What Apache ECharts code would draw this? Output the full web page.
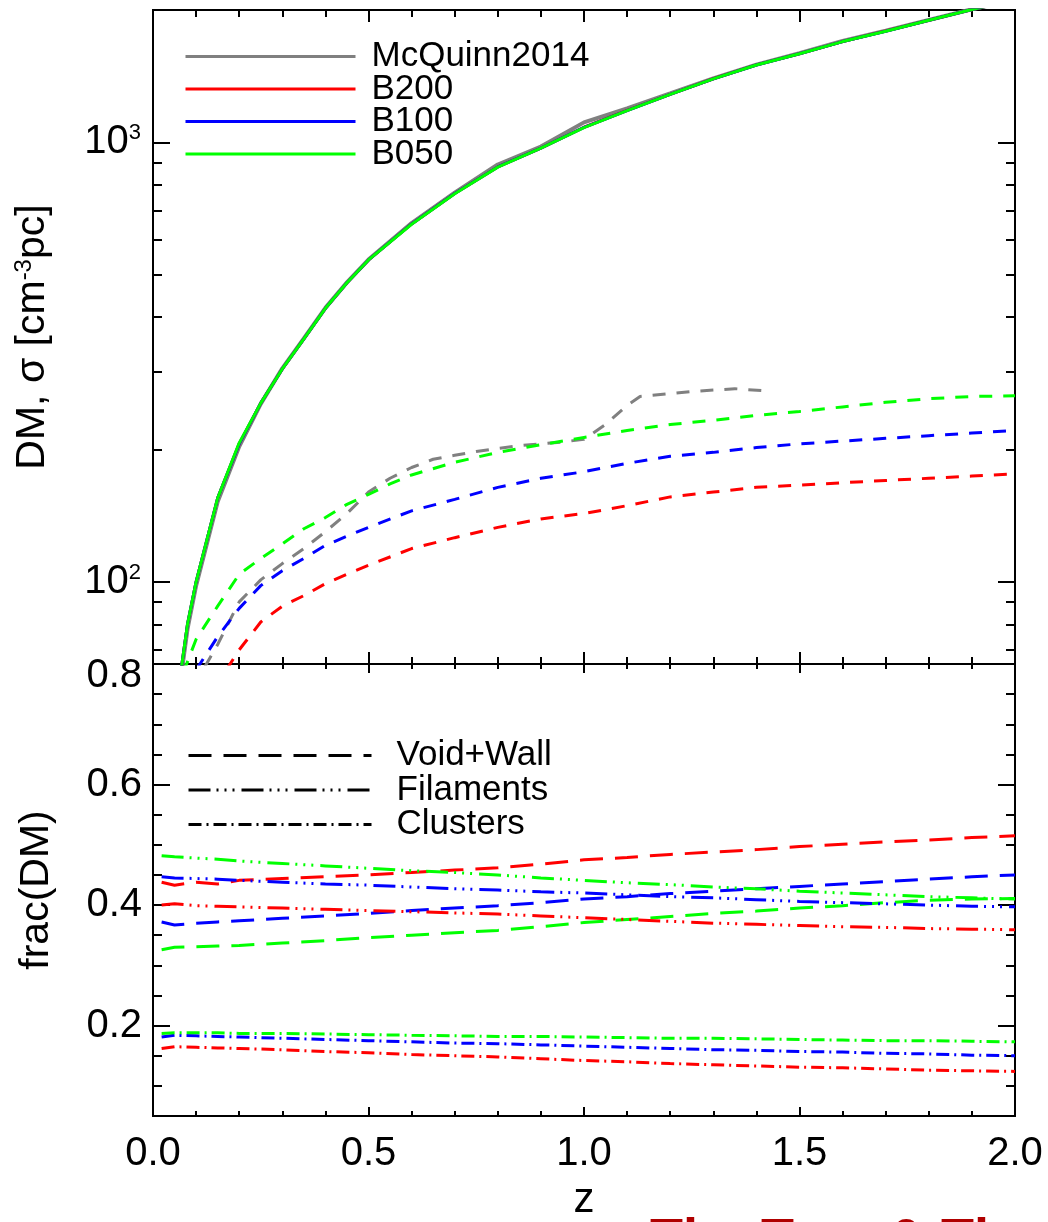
<!DOCTYPE html>
<html><head><meta charset="utf-8">
<script src="https://cdn.jsdelivr.net/npm/echarts@6/dist/echarts.min.js"></script>
<style>html,body{margin:0;padding:0;background:#fff}#c{width:1048px;height:1222px}</style>
</head><body><div id="c"></div>
<script>
// ---------- top panel: mean DM (solid) ----------
const zDM      = [0.04,0.06,0.08,0.1,0.15,0.2,0.25,0.3,0.35,0.4,0.45,0.5,0.6,0.7,0.8,0.9,1.0,1.1,1.2,1.3,1.4,1.5,1.6,1.7,1.8,1.9,2.0];
const dmMcQ    = [38,56,78,98,152,203,254,306,358,420,480,541,655,768,890,978,1110,1195,1292,1398,1502,1595,1700,1795,1898,2008,2110];
const dmB200   = [40,58,80,100,155,206,255,305,357,419,479,540,652,765,879,970,1082,1182,1286,1395,1500,1590,1695,1791,1895,2005,2110];
const dmB100   = [40,58,80,100,155,206,255,305,357,419,479,540,652,765,879,970,1081,1181,1285,1394,1499,1590,1695,1790,1895,2005,2110];
const dmB050   = [40,58,80,100,155,207,255,305,357,419,479,540,651,764,878,970,1080,1180,1285,1394,1499,1590,1695,1790,1895,2005,2110];

// ---------- top panel: sigma (dashed) ----------
const zSigMcQ  = [0.12,0.15,0.2,0.25,0.3,0.35,0.4,0.45,0.5,0.55,0.6,0.65,0.7,0.75,0.8,0.85,0.9,0.95,1.0,1.05,1.1,1.13,1.2,1.25,1.3,1.35,1.42];
const sigMcQ   = [64,72,90,101,110,119,130,143,160,172,182,190,194,198,201,204,206,208,211,228,252,264,268,271,273,275,272];
const zSigB050 = [0.07,0.1,0.15,0.2,0.25,0.3,0.35,0.4,0.45,0.5,0.55,0.6,0.7,0.8,0.9,1.0,1.1,1.2,1.3,1.4,1.5,1.6,1.7,1.8,1.9,2.0];
const sigB050  = [62,74,88,104,113,122,132,140,150,158,167,175,187,197,205,213,221,228,233,239,244,250,256,261,264,265];
const zSigB100 = [0.1,0.15,0.2,0.25,0.3,0.35,0.4,0.45,0.5,0.6,0.7,0.8,0.9,1.0,1.1,1.2,1.3,1.4,1.5,1.6,1.7,1.8,1.9,2.0];
const sigB100  = [63,75,87,98,106,113,121,127,133,145,154,164,172,178,186,193,197,202,206,209,212,215,218,221];
const zSigB200 = [0.17,0.2,0.25,0.3,0.35,0.4,0.45,0.5,0.6,0.7,0.8,0.9,1.0,1.1,1.2,1.3,1.4,1.5,1.6,1.7,1.8,1.9,2.0];
const sigB200  = [63,70,81,88,93,99,104,109,119,126,133,139,143,149,156,160,164,166,168,170,172,174,176];

// ---------- bottom panel: frac(DM) ----------
const zFrac    = [0.02,0.05,0.1,0.15,0.2,0.3,0.4,0.5,0.6,0.7,0.8,0.9,1.0,1.1,1.2,1.3,1.4,1.5,1.6,1.7,1.8,1.9,2.0];
const vwB200   = [0.438,0.433,0.438,0.435,0.441,0.444,0.447,0.450,0.454,0.458,0.462,0.468,0.475,0.479,0.484,0.488,0.492,0.497,0.501,0.505,0.508,0.512,0.515];
const vwB100   = [0.372,0.367,0.370,0.372,0.374,0.378,0.382,0.386,0.391,0.395,0.399,0.404,0.410,0.414,0.419,0.423,0.427,0.431,0.435,0.439,0.443,0.447,0.450];
const vwB050   = [0.326,0.330,0.331,0.332,0.333,0.337,0.341,0.346,0.350,0.354,0.358,0.364,0.371,0.376,0.381,0.386,0.390,0.395,0.399,0.404,0.408,0.410,0.411];
const filB050  = [0.482,0.480,0.478,0.476,0.473,0.469,0.465,0.461,0.457,0.454,0.450,0.445,0.441,0.437,0.434,0.430,0.427,0.423,0.420,0.417,0.414,0.412,0.410];
const filB100  = [0.447,0.445,0.444,0.443,0.441,0.438,0.435,0.433,0.430,0.427,0.425,0.422,0.420,0.417,0.414,0.412,0.409,0.406,0.404,0.402,0.400,0.398,0.397];
const filB200  = [0.400,0.402,0.399,0.398,0.397,0.395,0.393,0.391,0.389,0.387,0.385,0.382,0.379,0.376,0.373,0.370,0.368,0.366,0.364,0.363,0.361,0.360,0.359];
const cluB050  = [0.187,0.188,0.188,0.188,0.187,0.187,0.186,0.185,0.184,0.183,0.182,0.182,0.181,0.180,0.179,0.179,0.178,0.177,0.176,0.175,0.175,0.174,0.173];
const cluB100  = [0.181,0.184,0.183,0.182,0.181,0.179,0.177,0.175,0.173,0.171,0.170,0.168,0.166,0.164,0.162,0.160,0.159,0.157,0.156,0.154,0.153,0.151,0.150];
const cluB200  = [0.162,0.165,0.164,0.163,0.162,0.160,0.157,0.155,0.152,0.150,0.148,0.145,0.142,0.140,0.137,0.135,0.133,0.131,0.130,0.128,0.126,0.125,0.124];

// ---------- ticks / labels ----------
const zMajor    = [0, 0.5, 1.0, 1.5, 2.0];
const zMinor    = [0.1,0.2,0.3,0.4,0.6,0.7,0.8,0.9,1.1,1.2,1.3,1.4,1.6,1.7,1.8,1.9];
const dmMajor   = [100, 1000];
const dmMinor   = [70,80,90,200,300,400,500,600,700,800,900];
const fracMajor = [0.2, 0.4, 0.6, 0.8];
const fracMinor = [0.1,0.15,0.25,0.3,0.35,0.45,0.5,0.55,0.65,0.7,0.75];

const topNames = ['McQuinn2014','B200','B100','B050'];
const botNames = ['Void+Wall','Filaments','Clusters'];

const FONT = '"Liberation Sans", Arial, sans-serif';
const C = {McQ:'#808080', B200:'#ff0000', B100:'#0000ff', B050:'#00ff00'};
const DASH_SIG = [13, 11];
const DASH_VW  = [23, 12];
const DASH_FIL = [22, 6, 2, 6, 2, 6, 2, 7];
const DASH_CLU = [13, 5, 2, 5];

const pairs = (xs, ys) => xs.map((x, i) => [x, ys[i]]);
const AX = {color:'#000', width:2};

function xAx(grid, pos, len, ticks, extra) {
  return Object.assign({
    type:'value', gridIndex:grid, position:pos, min:0, max:2,
    axisLine:{show:true, onZero:false, lineStyle:AX},
    axisTick:{show:true, inside:true, length:len, customValues:ticks, lineStyle:AX},
    axisLabel:{show:false}, splitLine:{show:false}
  }, extra || {});
}
function yAx(grid, type, min, max, pos, len, ticks, extra) {
  const o = {
    type:type, gridIndex:grid, position:pos, min:min, max:max,
    axisLine:{show:true, onZero:false, lineStyle:AX},
    axisTick:{show:true, inside:true, length:len, customValues:ticks, lineStyle:AX},
    axisLabel:{show:false}, splitLine:{show:false}
  };
  if (type === 'log') o.logBase = 10;
  return Object.assign(o, extra || {});
}

const supRich = {
  b:{fontSize:40, fontFamily:FONT, color:'#000'},
  s:{fontSize:22, fontFamily:FONT, color:'#000', verticalAlign:'top'}
};

const xAxis = [
  xAx(0,'bottom',12,zMajor), xAx(0,'bottom',7,zMinor),
  xAx(0,'top',12,zMajor),    xAx(0,'top',7,zMinor),
  xAx(1,'bottom',9,zMajor,{
    axisLabel:{show:true, customValues:zMajor, margin:18, fontSize:40, fontFamily:FONT, color:'#000',
      formatter:v => Number(v).toFixed(1)},
    name:'z', nameLocation:'middle', nameGap:63,
    nameTextStyle:{fontSize:42, fontFamily:FONT, color:'#000'}
  }),
  xAx(1,'bottom',5,zMinor),
  xAx(1,'top',9,zMajor), xAx(1,'top',5,zMinor)
];

const yAxis = [
  yAx(0,'log',65,2000,'left',17,dmMajor,{
    axisLabel:{show:true, customValues:dmMajor, margin:12,
      formatter:v => '{b|10}{s|' + Math.round(Math.log10(v)) + '}', rich:supRich},
    name:'{n|DM, σ [cm}{s|-3}{n|pc]}', nameLocation:'middle', nameGap:100,
    nameTextStyle:{rich:{n:{fontSize:41, fontFamily:FONT, color:'#000'},
                         s:{fontSize:24, fontFamily:FONT, color:'#000', verticalAlign:'top'}}}
  }),
  yAx(0,'log',65,2000,'left',9,dmMinor),
  yAx(0,'log',65,2000,'right',17,dmMajor),
  yAx(0,'log',65,2000,'right',9,dmMinor),
  yAx(1,'value',0.05,0.8,'left',17,fracMajor,{
    axisLabel:{show:true, customValues:fracMajor, margin:11,
      formatter:v => (Math.abs(v-0.8) < 1e-9 ? '{t|' : '{r|') + Number(v).toFixed(1) + '}',
      rich:{r:{fontSize:40, fontFamily:FONT, color:'#000'},
            t:{fontSize:40, fontFamily:FONT, color:'#000', padding:[24,0,0,0]}}},
    name:'frac(DM)', nameLocation:'middle', nameGap:96,
    nameTextStyle:{fontSize:41, fontFamily:FONT, color:'#000'}
  }),
  yAx(1,'value',0.05,0.8,'left',9,fracMinor),
  yAx(1,'value',0.05,0.8,'right',17,fracMajor),
  yAx(1,'value',0.05,0.8,'right',9,fracMinor)
];

function line(name, color, data, width, dash, grid) {
  return {
    type:'line', name:name, xAxisIndex:grid===1?4:0, yAxisIndex:grid===1?4:0,
    data:data, symbol:'none', showSymbol:false, smooth:false, clip:true,
    lineStyle:{color:color, width:width, type:dash || 'solid'},
    itemStyle:{color:color}, emphasis:{disabled:true}, silent:true
  };
}

const series = [
  line('McQuinn2014', C.McQ,  pairs(zDM, dmMcQ), 4, null, 0),
  line('B200',        C.B200, pairs(zDM, dmB200), 3, null, 0),
  line('B100',        C.B100, pairs(zDM, dmB100), 3, null, 0),
  line('B050',        C.B050, pairs(zDM, dmB050), 3, null, 0),
  line('McQuinn2014', C.McQ,  pairs(zSigMcQ, sigMcQ), 3, DASH_SIG, 0),
  line('B200',        C.B200, pairs(zSigB200, sigB200), 3, DASH_SIG, 0),
  line('B100',        C.B100, pairs(zSigB100, sigB100), 3, DASH_SIG, 0),
  line('B050',        C.B050, pairs(zSigB050, sigB050), 3, DASH_SIG, 0),
  line('B200 Void+Wall',  C.B200, pairs(zFrac, vwB200), 3, DASH_VW, 1),
  line('B100 Void+Wall',  C.B100, pairs(zFrac, vwB100), 3, DASH_VW, 1),
  line('B050 Void+Wall',  C.B050, pairs(zFrac, vwB050), 3, DASH_VW, 1),
  line('B200 Filaments',  C.B200, pairs(zFrac, filB200), 3, DASH_FIL, 1),
  line('B100 Filaments',  C.B100, pairs(zFrac, filB100), 3, DASH_FIL, 1),
  line('B050 Filaments',  C.B050, pairs(zFrac, filB050), 3, DASH_FIL, 1),
  line('B200 Clusters',   C.B200, pairs(zFrac, cluB200), 3, DASH_CLU, 1),
  line('B100 Clusters',   C.B100, pairs(zFrac, cluB100), 3, DASH_CLU, 1),
  line('B050 Clusters',   C.B050, pairs(zFrac, cluB050), 3, DASH_CLU, 1),
  line('Void+Wall', '#000', [], 3, DASH_VW, 1),
  line('Filaments', '#000', [], 3, DASH_FIL, 1),
  line('Clusters',  '#000', [], 3, DASH_CLU, 1)
];

const legendText = {fontSize:35, fontFamily:FONT, color:'#000'};
const option = {
  animation:false,
  backgroundColor:'#fff',
  grid:[
    {left:153, top:10, width:862, height:654},
    {left:153, top:664, width:862, height:457}
  ],
  xAxis:xAxis, yAxis:yAxis,
  legend:[
    {data:topNames, orient:'vertical', left:184, top:39, padding:0, itemWidth:170, itemHeight:32, itemGap:-2.5,
     selectedMode:false, textStyle:Object.assign({padding:[0,0,0,11], lineHeight:32}, legendText),
     lineStyle:{width:3}, itemStyle:{color:'transparent', borderWidth:0, opacity:0}},
    {data:botNames, orient:'vertical', left:187, top:738, padding:0, itemWidth:183, itemHeight:34, itemGap:-0.5,
     selectedMode:false, textStyle:Object.assign({padding:[0,0,0,20], lineHeight:34}, legendText),
     lineStyle:{width:3}, itemStyle:{color:'transparent', borderWidth:0, opacity:0}}
  ],
  graphic:[
    {type:'text', left:650, top:1214, silent:true,
     style:{text:'The Tree & The', font:'bold 54px "Liberation Sans", Arial, sans-serif', fill:'#b00000'}}
  ],
  series:series
};
const chart = echarts.init(document.getElementById('c'), null, {renderer:'canvas'});
chart.setOption(option);
</script></body></html>
